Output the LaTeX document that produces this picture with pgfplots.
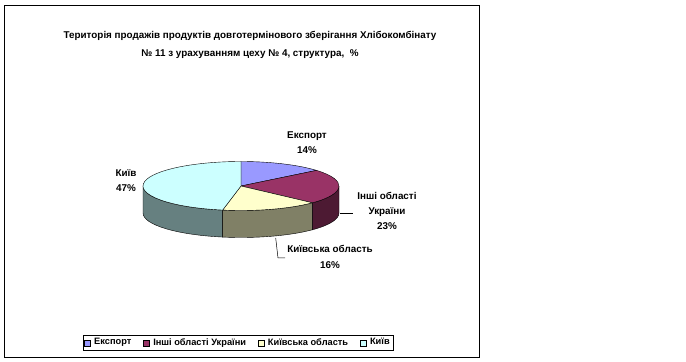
\documentclass[border=0pt]{standalone}
\usepackage{pgfplots}
\pgfplotsset{compat=1.18}
\usepackage{fontspec}
\setmainfont{Liberation Sans}
\definecolor{cA}{HTML}{9999FF}
\definecolor{cB}{HTML}{993366}
\definecolor{cC}{HTML}{FFFFCC}
\definecolor{cD}{HTML}{CCFFFF}
\definecolor{sA}{HTML}{4D4D80}
\definecolor{sB}{HTML}{4D1A33}
\definecolor{sC}{HTML}{808066}
\definecolor{sD}{HTML}{668080}
% shares, %
\def\vA{14}\def\vB{23}\def\vC{16}\def\vD{47}
\pgfmathsetmacro\aA{90}
\pgfmathsetmacro\aB{\aA-3.6*\vA}
\pgfmathsetmacro\aC{\aB-3.6*\vB}
\pgfmathsetmacro\aD{\aC-3.6*\vC}
\pgfmathsetmacro\aE{\aD-3.6*\vD}
\pgfmathsetmacro\aDs{\aD+360}
\def\rx{98bp}\def\ry{24.5bp}\def\dep{27bp}
\begin{document}
\begin{tikzpicture}
\begin{axis}[
  width=686bp, height=362bp, scale only axis,
  xmin=0, xmax=686, ymin=0, ymax=362,
  hide axis, clip=false,
  legend columns=4,
  legend style={at={(axis cs:238,19.5)}, anchor=center, draw=black, line width=0.6pt,
    font=\fontsize{9.3}{10}\selectfont\bfseries, inner sep=1.5pt,
    /tikz/every even column/.append style={column sep=10bp},
    /tikz/every odd column/.append style={column sep=1.5bp}},
  legend image code/.code={\draw[#1, line width=0.4pt] (0bp,-4bp) rectangle (6bp,2bp);},
]
\path (axis cs:0,0) rectangle (axis cs:686,362);
% outer frame
\draw[line width=0.9pt] (axis cs:4,5) rectangle (axis cs:479,357);
% title
\node[align=center, font=\fontsize{9.9}{18.3}\selectfont\bfseries] at (axis cs:250,317)
  {Територія продажів продуктів довготермінового зберігання Хлібокомбінату\\
   № 11 з урахуванням цеху № 4, структура,\ \ \%};
% sides (front half)
\fill[sD, draw=black, line width=0.4pt] (axis cs:241,176) ++(180:\rx\space and \ry) arc[start angle=180, end angle=\aDs, x radius=\rx, y radius=\ry] -- ++(0,-\dep) arc[start angle=\aDs, end angle=180, x radius=\rx, y radius=\ry] -- cycle;
\fill[sC, draw=black, line width=0.4pt] (axis cs:241,176) ++(\aD:\rx\space and \ry) arc[start angle=\aD, end angle=\aC, x radius=\rx, y radius=\ry] -- ++(0,-\dep) arc[start angle=\aC, end angle=\aD, x radius=\rx, y radius=\ry] -- cycle;
\fill[sB, draw=black, line width=0.4pt] (axis cs:241,176) ++(\aC:\rx\space and \ry) arc[start angle=\aC, end angle=0, x radius=\rx, y radius=\ry] -- ++(0,-\dep) arc[start angle=0, end angle=\aC, x radius=\rx, y radius=\ry] -- cycle;
% top faces
\fill[cA, draw=black, line width=0.4pt] (axis cs:241,176) -- ++(\aA:\rx\space and \ry) arc[start angle=\aA, end angle=\aB, x radius=\rx, y radius=\ry] -- cycle;
\fill[cB, draw=black, line width=0.4pt] (axis cs:241,176) -- ++(\aB:\rx\space and \ry) arc[start angle=\aB, end angle=\aC, x radius=\rx, y radius=\ry] -- cycle;
\fill[cC, draw=black, line width=0.4pt] (axis cs:241,176) -- ++(\aC:\rx\space and \ry) arc[start angle=\aC, end angle=\aD, x radius=\rx, y radius=\ry] -- cycle;
\fill[cD, draw=black, line width=0.4pt] (axis cs:241,176) -- ++(\aD:\rx\space and \ry) arc[start angle=\aD, end angle=\aE, x radius=\rx, y radius=\ry] -- cycle;
% leader lines
\draw[line width=0.5pt] (axis cs:340,149) -- (axis cs:353,149);
\draw[line width=0.5pt] (axis cs:275.7,124) -- (axis cs:278,104) -- (axis cs:285,104);
% labels
\begin{scope}[every node/.style={align=center, font=\fontsize{9.9}{15.3}\selectfont\bfseries}]
\node at (axis cs:307,219) {Експорт\\\vA\%};
\node at (axis cs:387,151) {Інші області\\України\\\vB\%};
\node at (axis cs:330,105) {Київська область\\\vC\%};
\node at (axis cs:126,181.5) {Київ\\\vD\%};
\end{scope}
\addlegendimage{fill=cA, draw=black}
\addlegendentry{Експорт}
\addlegendimage{fill=cB, draw=black}
\addlegendentry{Інші області України}
\addlegendimage{fill=cC, draw=black}
\addlegendentry{Київська область}
\addlegendimage{fill=cD, draw=black}
\addlegendentry{Київ}
\end{axis}
\end{tikzpicture}
\end{document}
